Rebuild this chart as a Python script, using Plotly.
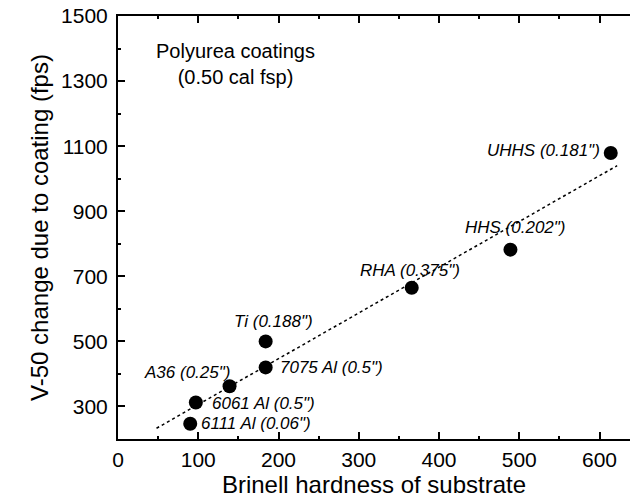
import plotly.graph_objects as go

hardness = [90, 97, 139, 184, 184, 366, 489, 614]
v50_change = [247, 312, 362, 420, 500, 665, 782, 1079]
labels = ['6111 Al (0.06")', '6061 Al (0.5")', 'A36 (0.25")', '7075 Al (0.5")',
          'Ti (0.188")', 'RHA (0.375")', 'HHS (0.202")', 'UHHS (0.181")']
x_ticks = [0, 100, 200, 300, 400, 500, 600]
y_ticks = [300, 500, 700, 900, 1100, 1300, 1500]
fit_x = [48, 622]
fit_y = [233, 1040]

# label placement (pixel offsets & anchors)
label_pos = [
    ("left", 9, 0), ("left", 14, -1), ("right", 2, 14), ("left", 12, 0),
    ("center", 8, 20), ("center", -2, 17), ("center", 5, 22), ("right", -9, 2),
]

FONT = "Arial, Liberation Sans, sans-serif"
XRANGE = [0, 638]

fig = go.Figure()
fig.add_trace(go.Scatter(x=fit_x, y=fit_y, mode="lines",
                         line=dict(color="black", width=1.5, dash="3px,3px"),
                         showlegend=False, hoverinfo="skip"))
fig.add_trace(go.Scatter(x=hardness, y=v50_change, mode="markers",
                         marker=dict(color="black", size=14),
                         showlegend=False))

for xv, yv, txt, (anc, xs, ys) in zip(hardness, v50_change, labels, label_pos):
    fig.add_annotation(x=xv, y=yv, text=f"<i>{txt}</i>", showarrow=False,
                       xanchor=anc, yanchor="middle", xshift=xs, yshift=ys,
                       font=dict(family=FONT, size=17, color="black"))

fig.add_annotation(x=146, y=1354, text="Polyurea coatings<br>(0.50 cal fsp)",
                   showarrow=False, xanchor="center", yanchor="middle",
                   font=dict(family=FONT, size=20, color="black"))

fig.update_layout(
    width=630, height=498,
    margin=dict(l=118, r=0, t=16, b=59),
    paper_bgcolor="white", plot_bgcolor="white",
    font=dict(family=FONT, color="black"),
    xaxis=dict(range=XRANGE, tickvals=x_ticks,
               ticks="inside", ticklen=7, tickwidth=1.5, tickcolor="black",
               minor=dict(dtick=50, ticks="inside", ticklen=3, tickcolor="black"),
               showline=True, linewidth=2, linecolor="black", mirror="allticks",
               showgrid=False, zeroline=False,
               tickfont=dict(size=21, family=FONT),
               ticklabelstandoff=1,
               title=dict(text="Brinell hardness of substrate",
                          font=dict(size=24, family=FONT), standoff=6)),
    yaxis=dict(range=[200, 1500], tickvals=y_ticks,
               ticks="inside", ticklen=7, tickwidth=1.5, tickcolor="black",
               minor=dict(dtick=100, ticks="inside", ticklen=3, tickcolor="black"),
               showline=True, linewidth=2, linecolor="black",
               showgrid=False, zeroline=False,
               tickfont=dict(size=21, family=FONT),
               ticklabelstandoff=4,
               title=dict(text="V-50 change due to coating (fps)",
                          font=dict(size=24, family=FONT), standoff=6)),
)

fig.write_html("out.html", config={"displayModeBar": False})
